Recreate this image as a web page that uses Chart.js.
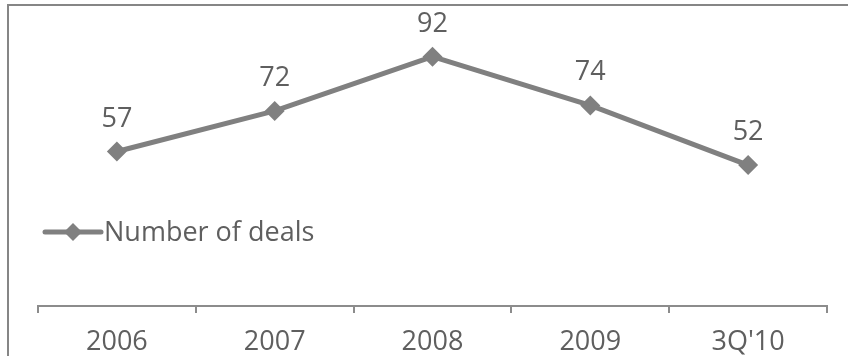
<!DOCTYPE html>
<html>
<head>
<meta charset="utf-8">
<script src="https://cdn.jsdelivr.net/npm/chart.js@4/dist/chart.umd.min.js"></script>
<style>
  html, body { margin: 0; padding: 0; background: #fff; }
  #wrap { width: 848px; height: 356px; position: relative; }
</style>
</head>
<body>
<div id="wrap"><canvas id="deals"></canvas></div>
<script>
"use strict";

// ── Data ──────────────────────────────────────────────────────────────────────
const periods     = ["2006", "2007", "2008", "2009", "3Q'10"];
const dealCounts  = [57, 72, 92, 74, 52];
const seriesName  = "Number of deals";

// ── Style tokens ──────────────────────────────────────────────────────────────
const CLR = {
  line:  "#808080",
  text:  "#5f5f5f",
  axis:  "#8c8c8c",
  frame: "#868686",
};
const FONT = "'Open Sans', 'DejaVu Sans', sans-serif";
const FONT_SIZE = 27;

// ── Frame (top + left edge) ───────────────────────────────────────────────────
const framePlugin = {
  id: "frame",
  beforeDraw(chart) {
    const { ctx, width, height } = chart;
    ctx.save();
    ctx.strokeStyle = CLR.frame;
    ctx.lineWidth = 2;
    ctx.beginPath();
    ctx.moveTo(8, height);
    ctx.lineTo(8, 5);
    ctx.lineTo(width, 5);
    ctx.stroke();
    ctx.restore();
  },
};

// ── Value labels above each point ─────────────────────────────────────────────
const valueLabels = {
  id: "valueLabels",
  afterDatasetsDraw(chart) {
    const { ctx } = chart;
    const meta = chart.getDatasetMeta(0);
    ctx.save();
    ctx.font = `${FONT_SIZE}px ${FONT}`;
    ctx.fillStyle = CLR.text;
    ctx.textAlign = "center";
    ctx.textBaseline = "alphabetic";
    meta.data.forEach((pt, i) => {
      ctx.fillText(String(dealCounts[i]), pt.x, pt.y - 25);
    });
    ctx.restore();
  },
};

// ── Legend: line + diamond sample, drawn inside the plot ─────────────────────
const lineLegend = {
  id: "lineLegend",
  afterDraw(chart) {
    const { ctx } = chart;
    const ds = chart.data.datasets[0];
    const y = 232, x0 = 45, x1 = 101, r = 9;
    const cx = (x0 + x1) / 2;
    ctx.save();
    ctx.strokeStyle = ds.borderColor;
    ctx.lineWidth = ds.borderWidth;
    ctx.lineCap = "round";
    ctx.beginPath();
    ctx.moveTo(x0, y);
    ctx.lineTo(x1, y);
    ctx.stroke();
    ctx.fillStyle = ds.pointBackgroundColor;
    ctx.beginPath();
    ctx.moveTo(cx, y - r);
    ctx.lineTo(cx + r, y);
    ctx.lineTo(cx, y + r);
    ctx.lineTo(cx - r, y);
    ctx.closePath();
    ctx.fill();
    ctx.font = `${FONT_SIZE}px ${FONT}`;
    ctx.fillStyle = CLR.text;
    ctx.textAlign = "left";
    ctx.textBaseline = "middle";
    ctx.fillText(ds.label, x1 + 3, y + 1);
    ctx.restore();
  },
};

// ── Chart ─────────────────────────────────────────────────────────────────────
new Chart(document.getElementById("deals"), {
  type: "line",
  data: {
    labels: periods,
    datasets: [{
      label:                seriesName,
      data:                 dealCounts,
      borderColor:          CLR.line,
      borderWidth:          5,
      tension:              0,
      pointStyle:           "rectRot",
      pointRadius:          10,
      pointHoverRadius:     10,
      pointBackgroundColor: CLR.line,
      pointBorderWidth:     0,
    }],
  },
  options: {
    responsive:          true,
    maintainAspectRatio: false,
    animation:           false,
    layout: { padding: { left: 38, right: 21, top: 35, bottom: 0 } },
    scales: {
      x: {
        offset: true,
        grid: {
          offset:          true,
          drawOnChartArea: false,
          drawTicks:       true,
          tickLength:      7,
          color:           CLR.axis,
          lineWidth:       2,
        },
        border: { display: true, color: CLR.axis, width: 2 },
        ticks: {
          color:   CLR.text,
          padding: 13,
          font:    { family: FONT, size: FONT_SIZE },
          maxRotation: 0,
        },
        afterFit(scale) { scale.height = 50; },
      },
      y: {
        display: false,
        min: 0,
        max: 100,
      },
    },
    plugins: {
      legend:  { display: false },
      tooltip: { enabled: false },
    },
  },
  plugins: [framePlugin, valueLabels, lineLegend],
});
</script>
</body>
</html>
